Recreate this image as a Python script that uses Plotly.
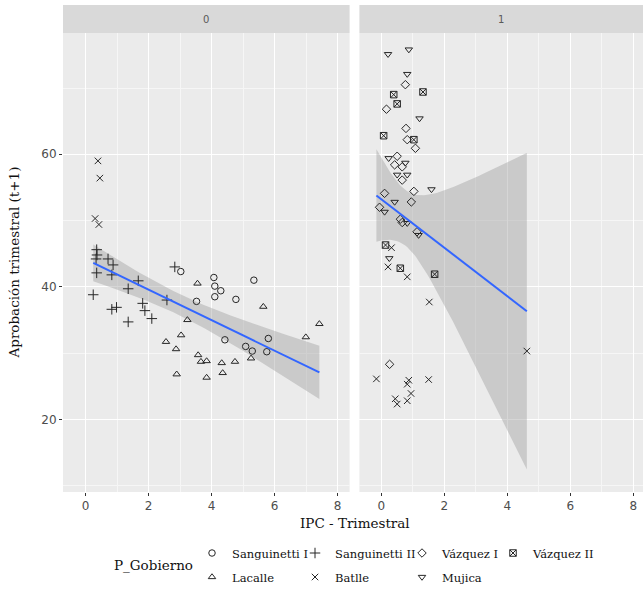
import numpy as np
import plotly.graph_objects as go

# ---------------- data ----------------
facet_labels = ["0", "1"]
x_ticks = [0, 2, 4, 6, 8]
y_ticks = [20, 40, 60]

# facet "0"
sang1_ipc = [3.02, 3.52, 4.07, 4.10, 4.29, 4.10, 4.77, 5.34, 4.42, 5.08, 5.29, 5.80, 5.75]
sang1_apr = [42.3, 37.8, 41.4, 40.1, 39.4, 38.5, 38.1, 41.0, 32.0, 31.0, 30.3, 32.2, 30.2]

lacalle_ipc = [3.55, 3.23, 3.03, 2.55, 2.87, 3.57, 3.66, 3.84, 4.32, 4.35, 2.89, 3.84, 4.74, 5.25, 5.64, 7.42, 6.99]
lacalle_apr = [40.5, 35.0, 32.7, 31.7, 30.6, 29.7, 28.7, 28.8, 28.5, 27.0, 26.8, 26.3, 28.7, 29.2, 37.0, 34.4, 32.4]

sang2_ipc = [0.35, 0.36, 0.33, 0.71, 0.87, 0.35, 0.83, 1.67, 1.35, 0.24, 0.83, 0.98, 1.81, 1.88, 2.10, 1.35, 2.58, 2.83]
sang2_apr = [45.6, 44.8, 44.2, 44.2, 43.3, 42.1, 41.8, 40.9, 39.7, 38.8, 36.6, 36.9, 37.5, 36.4, 35.2, 34.7, 38.0, 43.0]

batlle0_ipc = [0.39, 0.45, 0.30, 0.42]
batlle0_apr = [59.0, 56.4, 50.3, 49.4]

# facet "1"
batlle1_ipc = [0.32, 0.21, 0.82, 1.52, 4.62, -0.16, 0.87, 0.82, 1.50, 0.94, 0.44, 0.50, 0.82]
batlle1_apr = [45.9, 43.0, 41.5, 37.7, 30.3, 26.1, 25.9, 25.3, 26.0, 23.9, 23.1, 22.3, 22.8]

vaz1_ipc = [0.76, 0.16, 0.78, 0.82, 1.08, 0.50, 0.42, 0.66, 0.66, 1.03, 0.95, 0.10, -0.06, 0.60, 0.66, 1.13, 0.26]
vaz1_apr = [70.5, 66.8, 63.9, 62.2, 60.9, 59.7, 58.4, 58.1, 56.1, 54.4, 52.8, 54.1, 52.0, 50.2, 49.7, 48.3, 28.3]

mujica_ipc = [0.21, 0.87, 0.82, 1.21, 1.59, 0.23, 0.76, 0.50, 0.82, 0.42, 0.10, 0.82, 1.18, 0.25]
mujica_apr = [75.1, 75.8, 72.1, 65.4, 54.7, 59.4, 58.7, 56.9, 56.9, 52.8, 51.3, 49.6, 47.8, 44.3]

vaz2_ipc = [1.32, 0.39, 0.50, 0.07, 1.03, 0.13, 0.60, 1.69]
vaz2_apr = [69.4, 69.0, 67.6, 62.8, 62.2, 46.3, 42.8, 41.9]

# (government, facet, ipc, aprobacion)
series = [
    ("Sanguinetti I", 0, sang1_ipc, sang1_apr),
    ("Lacalle", 0, lacalle_ipc, lacalle_apr),
    ("Sanguinetti II", 0, sang2_ipc, sang2_apr),
    ("Batlle", 0, batlle0_ipc, batlle0_apr),
    ("Batlle", 1, batlle1_ipc, batlle1_apr),
    ("Vázquez I", 1, vaz1_ipc, vaz1_apr),
    ("Mujica", 1, mujica_ipc, mujica_apr),
    ("Vázquez II", 1, vaz2_ipc, vaz2_apr),
]

# ---------------- styles ----------------
symbols = {
    "Sanguinetti I": "circle-open",
    "Lacalle": "triangle-up-open",
    "Sanguinetti II": "cross-thin-open",
    "Batlle": "x-thin-open",
    "Vázquez I": "diamond-open",
    "Mujica": "triangle-down-open",
    "Vázquez II": "square-x-open",
}
sizes = {"Sanguinetti II": 7.5, "Batlle": 6.5}
legend_slot = {  # one legend box per entry, arranged in 2 rows like ggplot
    "Sanguinetti I": "legend", "Sanguinetti II": "legend2", "Vázquez I": "legend3",
    "Vázquez II": "legend4", "Lacalle": "legend5", "Batlle": "legend6", "Mujica": "legend7",
}

W, H = 643, 595
ML, MR, MT, MB = 63, 0, 33, 103
PW, PH = W - ML - MR, H - MT - MB
SERIF = "DejaVu Serif"
SANS = "DejaVu Sans"
PANEL_BG = "#EBEBEB"
STRIP_BG = "#D9D9D9"
PT_COLOR = "#262626"


def t975(df):
    z = 1.959963985
    return (z + (z**3 + z) / (4 * df) + (5 * z**5 + 16 * z**3 + 3 * z) / (96 * df**2)
            + (3 * z**7 + 19 * z**5 + 17 * z**3 - 15 * z) / (384 * df**3))


def lm_smooth(x, y, n_eval=80):
    x = np.asarray(x, float)
    y = np.asarray(y, float)
    n = len(x)
    xb = x.mean()
    sxx = ((x - xb) ** 2).sum()
    b = ((x - xb) * (y - y.mean())).sum() / sxx
    a = y.mean() - b * xb
    s = np.sqrt(((y - (a + b * x)) ** 2).sum() / (n - 2))
    xs = np.linspace(x.min(), x.max(), n_eval)
    fit = a + b * xs
    se = s * np.sqrt(1.0 / n + (xs - xb) ** 2 / sxx)
    t = t975(n - 2)
    return xs, fit, fit - t * se, fit + t * se


def facet_data(f):
    xs_all, ys_all = [], []
    for name, fac, xv, yv in series:
        if fac == f:
            xs_all += xv
            ys_all += yv
    return xs_all, ys_all


fig = go.Figure()
axis_ids = [("x", "y"), ("x2", "y2")]
smooths = [lm_smooth(*facet_data(f)) for f in (0, 1)]

# ribbons
for f in (0, 1):
    xs, fit, lo, hi = smooths[f]
    xa, ya = axis_ids[f]
    fig.add_trace(go.Scatter(
        x=np.concatenate([xs, xs[::-1]]), y=np.concatenate([hi, lo[::-1]]),
        fill="toself", fillcolor="rgba(153,153,153,0.4)", line=dict(width=0),
        mode="lines", hoverinfo="skip", showlegend=False, xaxis=xa, yaxis=ya))

# points
shown = set()
for name, fac, xv, yv in series:
    xa, ya = axis_ids[fac]
    fig.add_trace(go.Scatter(
        x=xv, y=yv, mode="markers", name=name, xaxis=xa, yaxis=ya,
        legend=legend_slot[name], showlegend=name not in shown,
        marker=dict(symbol=symbols[name], size=sizes.get(name, 6.5), color=PT_COLOR,
                    line=dict(width=1, color=PT_COLOR))))
    shown.add(name)

# regression lines
for f in (0, 1):
    xs, fit, lo, hi = smooths[f]
    xa, ya = axis_ids[f]
    fig.add_trace(go.Scatter(x=xs, y=fit, mode="lines", line=dict(color="#3366FF", width=2),
                             hoverinfo="skip", showlegend=False, xaxis=xa, yaxis=ya))

# ---------------- axes ----------------
d1 = (349.6 - ML) / PW
d2 = (359.4 - ML) / PW
xcommon = dict(
    tickvals=x_ticks, ticks="outside", ticklen=3, tickcolor="#333333", tickwidth=1,
    tickfont=dict(family=SANS, size=12, color="#4D4D4D"),
    showgrid=True, gridcolor="white", gridwidth=1.1, zeroline=False, showline=False,
    minor=dict(dtick=1, tick0=0, showgrid=True, gridcolor="#F6F6F6", gridwidth=0.6, ticks=""),
)
ycommon = dict(
    range=[9.03, 78.3], tickvals=y_ticks, ticks="outside", ticklen=3, tickcolor="#333333",
    tickwidth=1, tickfont=dict(family=SANS, size=12, color="#4D4D4D"),
    showgrid=True, gridcolor="white", gridwidth=1.1, zeroline=False, showline=False,
    minor=dict(dtick=10, tick0=0, showgrid=True, gridcolor="#F6F6F6", gridwidth=0.6, ticks=""),
)
fig.update_layout(
    xaxis=dict(domain=[0, d1], range=[-0.72, 8.38], anchor="y", **xcommon),
    xaxis2=dict(domain=[d2, 1], range=[-0.70, 8.31], anchor="y2", **xcommon),
    yaxis=dict(domain=[0, 1], anchor="x", **ycommon),
    yaxis2=dict(domain=[0, 1], anchor="x2", matches="y", showticklabels=False,
                **{k: v for k, v in ycommon.items() if k not in ("tickfont", "ticks")}),
)
fig.update_layout(yaxis2_ticks="")

# ---------------- strips ----------------
strip_h = 28 / PH
for i, xa in enumerate(["x", "x2"]):
    fig.add_shape(type="rect", xref=f"{xa} domain", yref="paper", x0=0, x1=1,
                  y0=1, y1=1 + strip_h, fillcolor=STRIP_BG, line=dict(width=0), layer="below")
    fig.add_annotation(xref=f"{xa} domain", yref="paper", x=0.5, y=1 + strip_h / 2,
                       text=facet_labels[i], showarrow=False,
                       font=dict(family=SANS, size=10, color="#5A5A5A"),
                       xanchor="center", yanchor="middle")

# axis titles
fig.add_annotation(xref="paper", yref="paper", x=(355 - ML) / PW, y=-(523 - (H - MB)) / PH,
                   text="IPC - Trimestral", showarrow=False, xanchor="center", yanchor="middle",
                   font=dict(family=SERIF, size=13.5, color="#111111"))
fig.add_annotation(xref="paper", yref="paper", x=(13 - ML) / PW, y=0.5, textangle=-90,
                   text="Aprobación trimestral (t+1)", showarrow=False,
                   xanchor="center", yanchor="middle",
                   font=dict(family=SERIF, size=13.5, color="#111111"))
fig.add_annotation(xref="paper", yref="paper", x=(153 - ML) / PW, y=-(565 - (H - MB)) / PH,
                   text="P_Gobierno", showarrow=False, xanchor="center", yanchor="middle",
                   font=dict(family=SERIF, size=13.5, color="#111111"))

# legends: one per entry, two rows (positions = text start, row centre in px)
legend_pos = {
    "legend": (232, 553), "legend2": (335, 553), "legend3": (442, 553), "legend4": (533, 553),
    "legend5": (232, 577), "legend6": (335, 577), "legend7": (442, 577),
}
for key, (tx, ty) in legend_pos.items():
    fig.update_layout(**{key: dict(
        x=(tx - 40 - ML) / PW, y=-(ty - (H - MB)) / PH, xanchor="left", yanchor="middle",
        orientation="h", bgcolor="rgba(0,0,0,0)", borderwidth=0,
        font=dict(family=SERIF, size=11.5, color="#111111"), itemclick=False)})

fig.update_layout(
    width=W, height=H, margin=dict(l=ML, r=MR, t=MT, b=MB, pad=0),
    paper_bgcolor="white", plot_bgcolor=PANEL_BG,
)

fig.write_html("out.html")
